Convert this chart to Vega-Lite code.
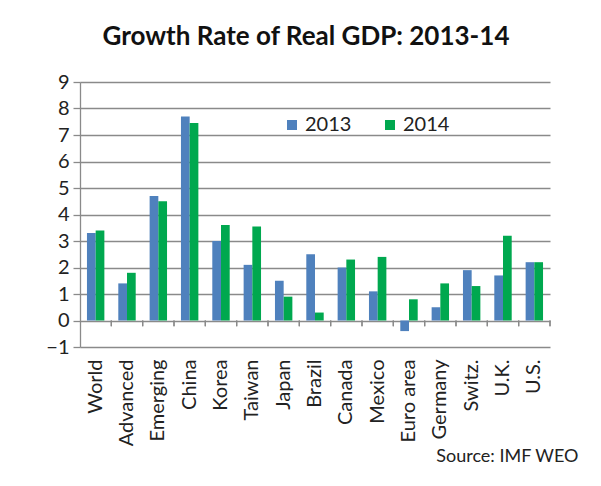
{
  "$schema": "https://vega.github.io/schema/vega-lite/v6.json",
  "width": 470,
  "height": 265,
  "autosize": "none",
  "padding": {"left": 80, "top": 82, "right": 51, "bottom": 139},
  "background": "white",
  "title": {"text": "Growth Rate of Real GDP: 2013-14", "font": "Lato", "fontSize": 26, "fontWeight": "bold", "color": "#111", "anchor": "middle", "dx": -9, "offset": 22},
  "config": {"view": {"stroke": null}, "font": "Lato"},
  "data": {"values": [
    {"region": "World", "year": "2013", "value": 3.3},
    {"region": "World", "year": "2014", "value": 3.4},
    {"region": "Advanced", "year": "2013", "value": 1.4},
    {"region": "Advanced", "year": "2014", "value": 1.8},
    {"region": "Emerging", "year": "2013", "value": 4.7},
    {"region": "Emerging", "year": "2014", "value": 4.5},
    {"region": "China", "year": "2013", "value": 7.7},
    {"region": "China", "year": "2014", "value": 7.45},
    {"region": "Korea", "year": "2013", "value": 3.0},
    {"region": "Korea", "year": "2014", "value": 3.6},
    {"region": "Taiwan", "year": "2013", "value": 2.1},
    {"region": "Taiwan", "year": "2014", "value": 3.55},
    {"region": "Japan", "year": "2013", "value": 1.5},
    {"region": "Japan", "year": "2014", "value": 0.9},
    {"region": "Brazil", "year": "2013", "value": 2.5},
    {"region": "Brazil", "year": "2014", "value": 0.3},
    {"region": "Canada", "year": "2013", "value": 2.0},
    {"region": "Canada", "year": "2014", "value": 2.3},
    {"region": "Mexico", "year": "2013", "value": 1.1},
    {"region": "Mexico", "year": "2014", "value": 2.4},
    {"region": "Euro area", "year": "2013", "value": -0.4},
    {"region": "Euro area", "year": "2014", "value": 0.8},
    {"region": "Germany", "year": "2013", "value": 0.5},
    {"region": "Germany", "year": "2014", "value": 1.4},
    {"region": "Switz.", "year": "2013", "value": 1.9},
    {"region": "Switz.", "year": "2014", "value": 1.3},
    {"region": "U.K.", "year": "2013", "value": 1.7},
    {"region": "U.K.", "year": "2014", "value": 3.2},
    {"region": "U.S.", "year": "2013", "value": 2.2},
    {"region": "U.S.", "year": "2014", "value": 2.2}
  ]},
  "layer": [
    {
      "mark": {"type": "bar"},
      "encoding": {
        "x": {
          "field": "region", "type": "nominal", "sort": null,
          "scale": {"paddingInner": 0, "paddingOuter": 0},
          "title": "Source: IMF WEO",
          "axis": {
            "labelAngle": -90, "labelFontSize": 20, "labelColor": "#222", "labelPadding": 12,
            "domain": false, "ticks": false,
            "titleFontSize": 18, "titleFontWeight": "normal", "titleColor": "#222",
            "titleAnchor": "end", "titleAlign": "right", "titleX": 498, "titlePadding": 2
          }
        },
        "xOffset": {"field": "year", "type": "nominal", "scale": {"paddingInner": 0, "paddingOuter": 0.8}},
        "y": {
          "field": "value", "type": "quantitative",
          "scale": {"domain": [-1, 9], "nice": false},
          "title": null,
          "axis": {
            "values": [-1, 0, 1, 2, 3, 4, 5, 6, 7, 8, 9],
            "tickCount": 11,
            "labelOverlap": false,
            "grid": true, "gridColor": "#8a8a8a", "gridWidth": 1.3, "gridOpacity": 1,
            "domainColor": "#8a8a8a", "domainWidth": 1.3,
            "tickColor": "#8a8a8a", "tickSize": 7, "tickWidth": 1.3,
            "labelFontSize": 20, "labelColor": "#222", "labelPadding": 4
          }
        },
        "color": {
          "field": "year", "type": "nominal",
          "scale": {"range": ["#4F81BD", "#00A84F"]},
          "legend": {
            "orient": "none", "legendX": 202, "legendY": 33, "direction": "horizontal",
            "title": null, "symbolType": "square", "symbolSize": 100, "symbolStrokeWidth": 0,
            "labelFontSize": 20, "labelColor": "#222", "labelOffset": 3, "columnPadding": 28
          }
        }
      }
    },
    {
      "mark": {"type": "rule", "color": "#8a8a8a", "strokeWidth": 1.3},
      "encoding": {
        "x": {"field": "region", "type": "nominal", "sort": null, "bandPosition": 1, "title": "Source: IMF WEO"},
        "y": {"datum": 0},
        "y2": {"datum": -0.22}
      }
    }
  ]
}
